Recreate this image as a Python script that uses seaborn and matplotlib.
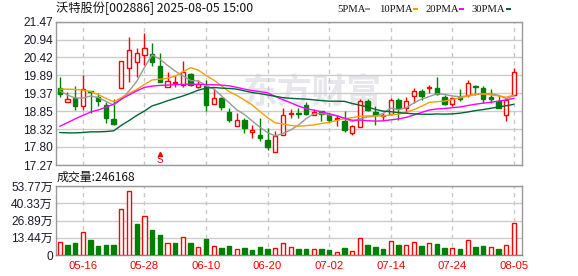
import numpy as np
import pandas as pd
import matplotlib
matplotlib.use('Agg')
import matplotlib.pyplot as plt
from matplotlib.patches import Rectangle
import seaborn as sns

# ---------------- data ----------------
dates = ['05-13', '05-14', '05-15', '05-16', '05-19', '05-20', '05-21', '05-22', '05-23', '05-26',
         '05-27', '05-28', '05-29', '05-30', '06-03', '06-04', '06-05', '06-06', '06-09', '06-10',
         '06-11', '06-12', '06-13', '06-16', '06-17', '06-18', '06-19', '06-20', '06-23', '06-24',
         '06-25', '06-26', '06-27', '06-30', '07-01', '07-02', '07-03', '07-04', '07-07', '07-08',
         '07-09', '07-10', '07-11', '07-14', '07-15', '07-16', '07-17', '07-18', '07-21', '07-22',
         '07-23', '07-24', '07-25', '07-28', '07-29', '07-30', '07-31', '08-01', '08-04', '08-05']
opens = [19.51, 19.11, 19.24, 19.01, 19.44, 19.27, 19.04, 18.61, 19.51, 20.12,
         20.29, 20.50, 20.51, 20.17, 19.56, 19.68, 19.61, 19.92, 19.55, 19.59,
         19.06, 19.22, 18.81, 18.40, 18.58, 18.25, 18.15, 18.00, 17.64, 18.14,
         18.76, 18.79, 19.03, 18.72, 18.84, 18.72, 18.62, 18.57, 18.22, 18.37,
         19.13, 18.82, 18.69, 18.77, 19.18, 18.93, 19.29, 19.44, 19.51, 19.53,
         19.27, 19.05, 19.26, 19.32, 19.57, 19.52, 19.26, 19.15, 18.72, 19.32]
highs = [19.84, 19.42, 19.59, 19.90, 19.44, 19.39, 19.11, 19.20, 20.30, 21.03,
         20.68, 21.12, 20.83, 20.54, 19.98, 19.91, 20.31, 19.95, 19.76, 19.76,
         19.52, 19.25, 18.93, 18.79, 18.64, 18.45, 18.64, 18.35, 18.27, 18.95,
         18.90, 18.93, 19.11, 18.90, 18.84, 18.79, 18.74, 18.84, 18.45, 19.21,
         19.20, 19.01, 18.79, 19.24, 19.22, 19.27, 19.52, 19.50, 19.61, 19.84,
         19.32, 19.24, 19.49, 19.76, 19.61, 19.59, 19.49, 19.32, 19.18, 20.10]
lows = [19.27, 19.11, 18.88, 18.89, 18.78, 18.99, 18.51, 18.44, 19.51, 19.71,
        19.84, 20.20, 20.18, 19.69, 19.56, 19.56, 19.56, 19.59, 19.52, 18.84,
        19.06, 18.88, 18.52, 18.40, 18.22, 18.06, 17.98, 17.72, 17.64, 18.14,
        18.64, 18.64, 18.74, 18.72, 18.56, 18.52, 18.40, 18.25, 18.15, 18.37,
        18.84, 18.45, 18.59, 18.74, 18.59, 18.79, 19.08, 19.18, 19.37, 19.33,
        19.03, 19.00, 19.15, 19.25, 19.32, 19.08, 19.08, 18.93, 18.56, 19.32]
closes = [19.36, 19.20, 19.00, 19.48, 19.41, 19.13, 18.65, 18.46, 20.30, 20.64,
          20.54, 20.68, 20.29, 19.70, 19.72, 19.70, 19.98, 19.61, 19.64, 19.03,
          19.22, 18.98, 18.59, 18.60, 18.35, 18.28, 18.06, 17.80, 18.11, 18.72,
          18.79, 18.76, 18.75, 18.82, 18.76, 18.59, 18.66, 18.30, 18.40, 19.15,
          18.88, 18.74, 18.72, 19.18, 18.93, 19.15, 19.45, 19.29, 19.54, 19.35,
          19.05, 19.22, 19.19, 19.66, 19.54, 19.19, 19.21, 18.95, 19.18, 19.98]
volumes = [101000, 78000, 93500, 177000, 117000, 70000, 78000, 78000, 356000, 496000,
           242000, 301000, 195000, 156000, 91000, 93500, 138000, 93500, 60000, 125000,
           68000, 55000, 68000, 44000, 55000, 39000, 62000, 47000, 52000, 91000,
           60000, 47000, 47000, 44000, 47000, 39000, 23000, 52000, 29000, 130000,
           78000, 62000, 47000, 107000, 75000, 75000, 99000, 70000, 91000, 86000,
           55000, 55000, 47000, 114000, 62000, 70000, 62000, 47000, 75000, 246168]
prev_close = 19.30  # close of the day before the first shown day

# moving-average values for days before the window is full
ma5_head = [19.44, 19.32, 19.23, 19.23]
ma10_head = [19.49, 19.49, 19.48, 19.46, 19.42, 19.33, 19.22, 19.12, 19.24]
ma20_head = [18.40, 18.51, 18.62, 18.72, 18.82, 18.88, 18.96, 19.05, 19.20, 19.32,
             19.44, 19.54, 19.58, 19.60, 19.61, 19.62, 19.63, 19.64, 19.63]
ma30_head = [18.22, 18.21, 18.21, 18.22, 18.24, 18.24, 18.25, 18.27, 18.43, 18.57,
             18.72, 18.85, 19.00, 19.07, 19.15, 19.22, 19.29, 19.37, 19.46, 19.52,
             19.54, 19.52, 19.51, 19.49, 19.44, 19.39, 19.36, 19.32, 19.28]
ma_names = ['5PMA', '10PMA', '20PMA', '30PMA']
ma_windows = [5, 10, 20, 30]

date_ticks = ['05-16', '05-28', '06-10', '06-20', '07-02', '07-14', '07-24', '08-05']
price_ticks = [17.27, 17.80, 18.32, 18.85, 19.37, 19.89, 20.42, 20.94, 21.47]
vol_ticks = [0, 134425, 268850, 403275, 537700]
vol_tick_labels = ['0', '13.44万', '26.89万', '40.33万', '53.77万']
title = '沃特股份[002886] 2025-08-05 15:00'
vol_title = '成交量:246168'
signal_day = '05-30'
signal_text = 'S'
watermark = '东方财富'

# ---------------- style ----------------
sns.set_style('white')
plt.rcParams['font.family'] = ['Liberation Sans', 'Noto Sans CJK SC']

RED = '#ff0000'
GREEN = '#008000'
ma_colors = ['#999999', '#f5a000', '#ff00ff', '#006633']


def moving_average(values, n, head):
    s = pd.Series(values).rolling(n).mean().to_numpy()
    s[:n - 1] = head
    return s


o = np.array(opens); h = np.array(highs); l = np.array(lows); c = np.array(closes)
v = np.array(volumes)
x = np.arange(len(dates))
heads = [ma5_head, ma10_head, ma20_head, ma30_head]
ma_vals = [moving_average(c, n, hd) for n, hd in zip(ma_windows, heads)]
ma_df = pd.DataFrame({
    'day': np.tile(x, len(ma_names)),
    'value': np.concatenate(ma_vals),
    'ma': np.repeat(ma_names, len(x)),
})

W, H = 578, 276
fig = plt.figure(figsize=(W / 100, H / 100), dpi=100)
fig.patch.set_facecolor('white')
L, R = 55.5, 522
ax = fig.add_axes([L / W, 1 - 165 / H, (R - L) / W, 143.5 / H])
axv = fig.add_axes([L / W, 1 - 255 / H, (R - L) / W, 69 / H])

tick_pos = [dates.index(d) for d in date_ticks]

for a in (ax, axv):
    a.set_xlim(-0.55, 60.05)
    for t in tick_pos:
        a.axvline(t, color='#c8c8c8', lw=1, ls=(0, (3, 3)), zorder=1)
    a.yaxis.grid(True, color='#cccccc', lw=1, zorder=1)
    a.xaxis.grid(False)
    a.set_axisbelow(True)
    for sp in a.spines.values():
        sp.set_color('#999999')
        sp.set_linewidth(1)
    a.tick_params(length=0)

# watermark
ax.text(0.55, 0.51, watermark, transform=ax.transAxes, ha='center', va='center',
        fontsize=25, color='#e6e6ec', fontweight='bold', family=['Noto Sans CJK SC'], zorder=0.5)

# candles
up = c >= o
edge = np.where(up, RED, GREEN)
face = np.where(up, 'white', GREEN)
ax.vlines(x, l, h, colors=edge, lw=1, zorder=3)
body_h = np.maximum(np.abs(c - o), 0.01)
ax.bar(x, body_h, bottom=np.minimum(o, c), width=0.56, color=face, edgecolor=edge,
       linewidth=1, zorder=4)

# moving averages
sns.lineplot(data=ma_df, x='day', y='value', hue='ma', palette=dict(zip(ma_names, ma_colors)),
             estimator=None, legend=False, linewidth=1, ax=ax, zorder=5)
ax.set_xlabel(''); ax.set_ylabel('')

# signal marker
sd = dates.index(signal_day)
ax.text(sd, 17.43, signal_text, color=RED, fontsize=7, ha='center', va='center', zorder=6)
ax.plot([sd], [17.60], marker='^', color=RED, markersize=3, zorder=6)

ax.set_ylim(price_ticks[0], price_ticks[-1])
ax.set_yticks(price_ticks)
ax.set_yticklabels([f'{t:.2f}' for t in price_ticks])
ax.tick_params(axis='y', labelsize=8.6, colors='#1a1a2a', pad=2)
ax.set_xticks([])

# volume
prev = np.concatenate([[prev_close], c[:-1]])
vup = c >= prev
vedge = np.where(vup, RED, GREEN)
vface = np.where(vup, 'white', GREEN)
axv.bar(x, v, width=0.56, color=vface, edgecolor=vedge, linewidth=1, zorder=3)
axv.set_ylim(vol_ticks[0], vol_ticks[-1])
axv.set_yticks(vol_ticks)
axv.set_yticklabels(vol_tick_labels)
axv.tick_params(axis='y', labelsize=8.6, colors='#1a1a2a', pad=2)
axv.spines['bottom'].set_color('#888888')
axv.set_xticks(tick_pos)
axv.set_xticklabels(date_ticks)
axv.tick_params(axis='x', labelsize=8.2, colors=RED, pad=4)

# titles
fig.text(56 / W, 1 - 8.5 / H, title, fontsize=8.8, va='center', ha='left', color='#111111',
         family=['Noto Sans CJK SC'])
fig.text(57 / W, 1 - 177.5 / H, vol_title, fontsize=8.6, va='center', ha='left', color='#111111',
         family=['Noto Sans CJK SC'])

# MA legend
leg_x = [337, 379, 425, 471]
sq_x = [365, 413, 459, 506]
for name, col, tx, sx in zip(ma_names, ma_colors, leg_x, sq_x):
    fig.text(tx / W, 1 - 9 / H, name, fontsize=7.7, va='center', ha='left', color='#111111',
             family=['Liberation Serif'])
    fig.patches.append(Rectangle((sx / W, 1 - 10.3 / H), 5 / W, 2.6 / H, transform=fig.transFigure,
                                 facecolor=col, edgecolor='none'))

fig.savefig('out.png', dpi=100, facecolor='white')
